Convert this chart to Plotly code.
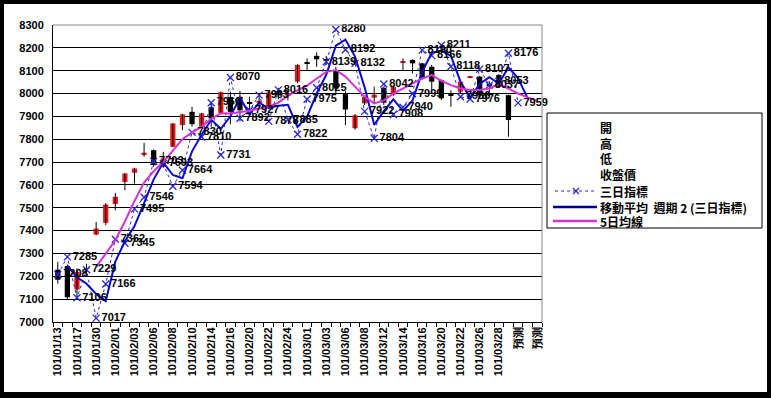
import plotly.graph_objects as go

# ---------------- data ----------------
categories = [
    "101/01/13", "101/01/16", "101/01/17", "101/01/18", "101/01/30", "101/01/31",
    "101/02/01", "101/02/02", "101/02/03", "101/02/04", "101/02/06", "101/02/07",
    "101/02/08", "101/02/09", "101/02/10", "101/02/13", "101/02/14", "101/02/15",
    "101/02/16", "101/02/17", "101/02/20", "101/02/21", "101/02/22", "101/02/23",
    "101/02/24", "101/02/29", "101/03/01", "101/03/02", "101/03/03", "101/03/05",
    "101/03/06", "101/03/07", "101/03/08", "101/03/09", "101/03/12", "101/03/13",
    "101/03/14", "101/03/15", "101/03/16", "101/03/19", "101/03/20", "101/03/21",
    "101/03/22", "101/03/23", "101/03/26", "101/03/27", "101/03/28", "101/03/29",
    "預測", "預測", "預測",
]

open_ = [7229, 7245, 7142, 7236, 7383, 7434, 7516, 7613, 7653, 7735, 7752, 7679,
         7767, 7862, 7920, 7855, 7940, 7915, 7985, 7986, 7960, 7962, 7942, 8010,
         7990, 8052, 8135, 8165, 8150, 8103, 8002, 7848, 7957, 7982, 8025, 7995,
         8135, 8147, 8132, 8117, 8059, 7995, 8008, 8070, 8074, 8040, 8081, 7993]
high = [7263, 7252, 7235, 7255, 7438, 7520, 7565, 7652, 7675, 7784, 7755, 7745,
        7870, 7911, 7942, 7915, 7962, 8008, 8008, 8012, 7986, 7990, 8012, 8025,
        8020, 8128, 8154, 8180, 8165, 8117, 8010, 7910, 7993, 8030, 8030, 8035,
        8154, 8150, 8135, 8125, 8062, 8015, 8055, 8076, 8078, 8055, 8085, 7995]
low = [7168, 7098, 7100, 7215, 7380, 7424, 7489, 7577, 7606, 7723, 7679, 7675,
       7765, 7840, 7855, 7850, 7855, 7913, 7865, 7878, 7927, 7940, 7935, 7975,
       7970, 8045, 8103, 8117, 8125, 8001, 7862, 7842, 7950, 7957, 7950, 7990,
       8103, 8088, 8060, 8015, 7971, 7942, 8000, 8070, 7985, 7990, 8025, 7811]
close = [7185, 7108, 7219, 7232, 7409, 7514, 7548, 7650, 7672, 7741, 7687, 7716,
         7869, 7909, 7866, 7913, 7891, 8006, 7920, 7927, 7955, 7968, 8005, 7992,
         8002, 8125, 8130, 8150, 8144, 8022, 7930, 7905, 7986, 7995, 7960, 8030,
         8139, 8132, 8066, 8052, 7979, 7990, 8052, 8076, 7993, 8035, 8030, 7884]

# 三日指標 (starts 101/01/13)
three_day_start = "101/01/13"
three_day = [7208, 7285, 7106, 7229, 7017, 7166, 7362, 7345, 7495, 7546, 7703, 7693,
             7594, 7664, 7830, 7810, 7960, 7731, 8070, 7892, 7927, 7993, 7878, 8016,
             7885, 7822, 7975, 8025, 8139, 8280, 8192, 8132, 7922, 7804, 8042, 7908,
             7940, 7999, 8190, 8166, 8211, 8118, 7986, 7976, 8107, 8037, 8053, 8176,
             7959]

# 移動平均 週期 2 (三日指標) (starts 101/01/16)
ma2_start = "101/01/16"
ma2 = [7246.5, 7195.5, 7167.5, 7123, 7091.5, 7264, 7353.5, 7420, 7520.5, 7624.5,
       7698, 7643.5, 7629, 7747, 7820, 7885, 7845.5, 7900.5, 7981, 7909.5, 7960,
       7935.5, 7947, 7950.5, 7853.5, 7898.5, 8000, 8082, 8209.5, 8236, 8162, 8027,
       7863, 7923, 7975, 7924, 7969.5, 8094.5, 8178, 8188.5, 8164.5, 8052, 7981,
       8041.5, 8072, 8045, 8114.5, 8067.5, 7980]

# 5日均線 (starts 101/01/30)
ma5_start = "101/01/30"
ma5 = [7241, 7300, 7358, 7440, 7530, 7610, 7660, 7700, 7752, 7800, 7830, 7855,
       7890, 7913, 7913, 7918, 7925, 7935, 7942, 7960, 7990, 8015, 8035, 8066,
       8095, 8103, 8074, 8030, 7986, 7957, 7970, 8000, 8022, 8045, 8066, 8081,
       8056, 8037, 8022, 8015, 8015, 8022, 8041, 8022, 8000, 7983, 7968]

y_ticks = [7000, 7100, 7200, 7300, 7400, 7500, 7600, 7700, 7800, 7900, 8000,
           8100, 8200, 8300]

legend_labels = ["開", "高", "低", "收盤價", "三日指標",
                 "移動平均  週期 2 (三日指標)", "5日均線"]

# ---------------- styling ----------------
W, H = 771, 398
ML, MR, MT, MB = 53, 229, 25, 76
PW, PH = W - ML - MR, H - MT - MB

def px(x):
    return (x - ML) / PW

def py(y):
    return (H - MB - y) / PH

RED = "#E61919"
BLUE_DOT = "#2828D0"
BLUE_MA = "#0A0ACC"
PINK = "#D633D6"

idx = list(range(len(categories)))

fig = go.Figure()

# wicks
wx, wy = [], []
for i, (h, l) in enumerate(zip(high, low)):
    wx += [i, i, None]
    wy += [l, h, None]
fig.add_trace(go.Scatter(x=wx, y=wy, mode="lines", line=dict(color="black", width=1),
                         showlegend=False, hoverinfo="skip"))

# bodies
up = [i for i in range(len(close)) if close[i] >= open_[i]]
dn = [i for i in range(len(close)) if close[i] < open_[i]]
fig.add_trace(go.Bar(x=up, base=[open_[i] for i in up],
                     y=[close[i] - open_[i] for i in up], width=0.55,
                     marker=dict(color=RED, line=dict(width=0)), showlegend=False))
fig.add_trace(go.Bar(x=dn, base=[close[i] for i in dn],
                     y=[open_[i] - close[i] for i in dn], width=0.55,
                     marker=dict(color="black", line=dict(width=0)), showlegend=False))

# 三日指標
s0 = categories.index(three_day_start)
x3 = idx[s0:s0 + len(three_day)]
fig.add_trace(go.Scatter(x=x3, y=three_day, mode="lines+markers",
                         line=dict(color=BLUE_DOT, width=1, dash="dot"),
                         marker=dict(symbol="x-thin", size=7,
                                     line=dict(color=BLUE_DOT, width=1.3)),
                         showlegend=False))

# moving average of 三日指標
s1 = categories.index(ma2_start)
fig.add_trace(go.Scatter(x=idx[s1:s1 + len(ma2)], y=ma2, mode="lines",
                         line=dict(color=BLUE_MA, width=2), showlegend=False))

# 5日均線
s2 = categories.index(ma5_start)
fig.add_trace(go.Scatter(x=idx[s2:s2 + len(ma5)], y=ma5, mode="lines",
                         line=dict(color=PINK, width=2), showlegend=False))

# data labels for 三日指標
fig.add_trace(go.Scatter(x=x3, y=three_day, mode="markers+text",
                         text=[str(v) for v in three_day], textposition="middle right",
                         textfont=dict(family="Liberation Sans, Arial", size=11,
                                       color="black", weight="bold"),
                         marker=dict(size=7, color="rgba(0,0,0,0)"),
                         cliponaxis=False, showlegend=False, hoverinfo="skip"))

tickvals = idx[::2]
ticktext = [categories[i] for i in tickvals]

shapes = [
    # white card over the black page
    dict(type="rect", xref="paper", yref="paper", x0=px(4), x1=px(767), y0=py(392), y1=py(4),
         fillcolor="white", line=dict(width=0), layer="below"),
    # plot-area top/right border (grey)
    dict(type="line", xref="paper", yref="paper", x0=0, x1=1, y0=1, y1=1,
         line=dict(color="#888888", width=1), layer="above"),
    dict(type="line", xref="paper", yref="paper", x0=1, x1=1, y0=0, y1=1,
         line=dict(color="#888888", width=1), layer="above"),
    # legend box
    dict(type="rect", xref="paper", yref="paper", x0=px(547), x1=px(762), y0=py(228), y1=py(113),
         fillcolor="white", line=dict(color="black", width=1), layer="above"),
]

rows = [127, 143, 159, 175, 191, 207, 221]
# 三日指標 legend symbol: dotted line with x marker
shapes.append(dict(type="line", xref="paper", yref="paper", x0=px(555), x1=px(597),
                   y0=py(rows[4]), y1=py(rows[4]), line=dict(color=BLUE_DOT, width=1, dash="dot"),
                   layer="above"))
for dx, dy in [(3, 3), (3, -3)]:
    shapes.append(dict(type="line", xref="paper", yref="paper", x0=px(576 - dx), x1=px(576 + dx),
                       y0=py(rows[4] - dy), y1=py(rows[4] + dy),
                       line=dict(color=BLUE_DOT, width=1.2), layer="above"))
shapes.append(dict(type="line", xref="paper", yref="paper", x0=px(553), x1=px(597),
                   y0=py(rows[5]), y1=py(rows[5]), line=dict(color="#000090", width=2.5),
                   layer="above"))
shapes.append(dict(type="line", xref="paper", yref="paper", x0=px(553), x1=px(597),
                   y0=py(rows[6]), y1=py(rows[6]), line=dict(color=PINK, width=2.5),
                   layer="above"))

annotations = []
for lab, ry in zip(legend_labels, rows):
    annotations.append(dict(xref="paper", yref="paper", x=px(598), y=py(ry), text=lab,
                            showarrow=False, xanchor="left", yanchor="middle",
                            font=dict(family="Noto Sans CJK TC", size=12, color="black",
                                      weight="bold")))

fig.update_layout(
    width=W, height=H,
    margin=dict(l=ML, r=MR, t=MT, b=MB, pad=0),
    paper_bgcolor="black", plot_bgcolor="white",
    barmode="overlay",
    showlegend=False,
    shapes=shapes, annotations=annotations,
    xaxis=dict(range=[-0.5, len(categories) - 0.5], tickmode="array",
               tickvals=tickvals, ticktext=ticktext, tickangle=-90,
               tickfont=dict(family="Liberation Sans, Arial", size=11, color="black",
                             weight="bold"),
               showgrid=False, zeroline=False, showline=True, linecolor="black", linewidth=1,
               ticks="", minor=dict(ticks="outside", ticklen=4, tickcolor="black",
                                    tick0=-0.5, dtick=1, showgrid=False)),
    yaxis=dict(range=[7000, 8300], tickmode="array", tickvals=y_ticks,
               tickfont=dict(family="Liberation Sans, Arial", size=11, color="black",
                             weight="bold"),
               showgrid=True, gridcolor="black", gridwidth=1, zeroline=False,
               showline=True, linecolor="black", linewidth=1, ticks="", ticklabelstandoff=6),
)

fig.write_html("out.html", config={"displayModeBar": False},
               post_script="document.body.style.margin='0';document.body.style.overflow='hidden';")
